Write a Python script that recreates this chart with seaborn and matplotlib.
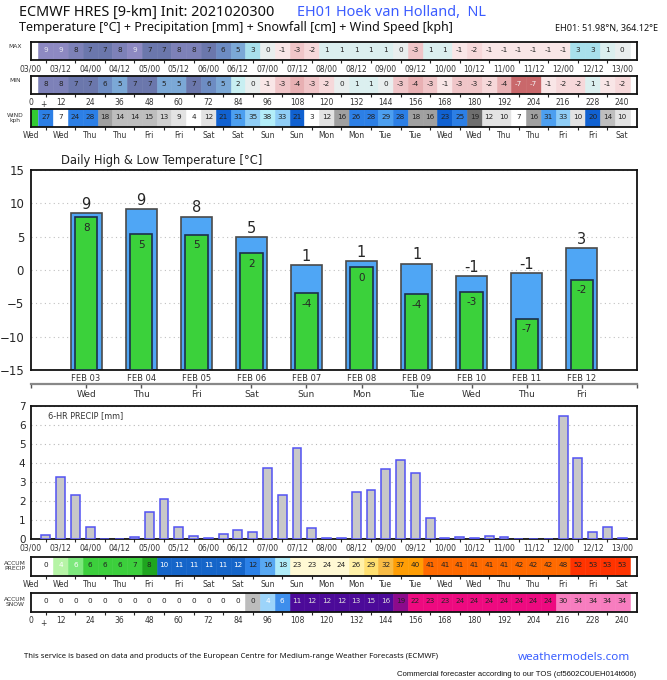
import numpy as np
import matplotlib
matplotlib.use('Agg')
import matplotlib.pyplot as plt
import seaborn as sns

sns.set_style('white')
plt.rcParams['font.family'] = ['DejaVu Sans']

W, H = 667, 680

# centre hour of each 6-hourly cell / bar
step_hours = list(range(6, 241, 6))

# --- 6-hourly strips ---
t_max = [9, 9, 8, 7, 7, 8, 9, 7, 7, 8, 8, 7, 6, 5, 3, 0, -1, -3, -2, 1,
         1, 1, 1, 1, 0, -3, 1, 1, -1, -2, -1, -1, -1, -1, -1, -1, 3, 3, 1, 0]
t_min = [8, 8, 7, 7, 6, 5, 7, 7, 5, 5, 7, 6, 5, 2, 0, -1, -3, -4, -3, -2,
         0, 1, 1, 0, -3, -4, -3, -1, -3, -3, -2, -4, -7, -7, -1, -2, -2, 1, -1, -2]
wind = [27, 7, 24, 28, 18, 14, 14, 15, 13, 9, 4, 12, 21, 31, 35, 38, 33, 21, 3, 12,
        16, 26, 28, 29, 28, 18, 16, 23, 25, 19, 12, 10, 7, 16, 31, 33, 10, 20, 14, 10]
precip_6h = [0.22, 3.26, 2.33, 0.63, 0.0, 0.0, 0.08, 1.42, 2.08, 0.63,
             0.16, 0.04, 0.26, 0.46, 0.37, 3.73, 2.29, 4.80, 0.60, 0.05,
             0.05, 2.49, 2.57, 3.71, 4.15, 3.45, 1.12, 0.03, 0.10, 0.03,
             0.14, 0.10, 0.02, 0.0, 0.02, 6.46, 4.24, 0.35, 0.61, 0.03]
accum_precip = [0.2, 3.6, 5.8, 6.4, 6.4, 6.4, 6.6, 7.9, 10.0, 10.7,
                10.8, 10.9, 11.1, 11.6, 11.9, 15.7, 18.0, 22.8, 23.4, 23.6,
                23.7, 26.1, 28.7, 32.4, 36.6, 40.0, 41.1, 41.1, 41.2, 41.3,
                41.4, 41.4, 41.6, 41.6, 41.7, 48.2, 52.4, 52.8, 53.0, 53.1]
accum_snow = [0, 0, 0, 0, 0, 0, 0, 0, 0, 0, 0, 0, 0, 0, 0.3, 4, 6, 11, 12, 12,
              12, 13, 15, 16, 19, 22, 23, 23, 24, 24, 24, 24, 24, 24, 24, 30, 34, 34, 34, 34]

time_labels = ['03/00', '03/12', '04/00', '04/12', '05/00', '05/12', '06/00', '06/12',
               '07/00', '07/12', '08/00', '08/12', '09/00', '09/12', '10/00', '10/12',
               '11/00', '11/12', '12/00', '12/12', '13/00']
hour_labels = ['0', '12', '24', '36', '48', '60', '72', '84', '96', '108', '120',
               '132', '144', '156', '168', '180', '192', '204', '216', '228', '240']
day_labels = ['Wed', 'Wed', 'Thu', 'Thu', 'Fri', 'Fri', 'Sat', 'Sat', 'Sun', 'Sun', 'Mon',
              'Mon', 'Tue', 'Tue', 'Wed', 'Wed', 'Thu', 'Thu', 'Fri', 'Fri', 'Sat']

# --- daily high / low ---
days = ['FEB 03', 'FEB 04', 'FEB 05', 'FEB 06', 'FEB 07',
        'FEB 08', 'FEB 09', 'FEB 10', 'FEB 11', 'FEB 12']
weekdays = ['Wed', 'Thu', 'Fri', 'Sat', 'Sun', 'Mon', 'Tue', 'Wed', 'Thu', 'Fri']
high = [8.5, 9.1, 8.0, 4.9, 0.75, 1.3, 0.95, -0.9, -0.45, 3.25]
high_lbl = ['9', '9', '8', '5', '1', '1', '1', '-1', '-1', '3']
low = [7.9, 5.35, 5.3, 2.5, -3.5, 0.4, -3.65, -3.3, -7.3, -1.45]
low_lbl = ['8', '5', '5', '2', '-4', '0', '-4', '-3', '-7', '-2']

# colour scales (value -> face colour, text colour)
DK = '#222222'
temp_cols = {9: ('#8d89c2', '#e6e6f2'), 8: ('#7d81b8', DK), 7: ('#6b77ac', DK),
             6: ('#6d8cc3', DK), 5: ('#7ba8d6', DK), 4: ('#93c6e2', DK),
             3: ('#a8e0ec', DK), 2: ('#c8eff2', DK), 1: ('#dbefef', DK),
             0: ('#e9eeee', DK), -1: ('#f9e6e7', DK), -2: ('#f6d8da', DK),
             -3: ('#f0c5c8', DK), -4: ('#e8b0b3', DK), -7: ('#c9686b', '#f4f4f4')}
wind_levels = [(8.5, '#ffffff', DK), (12.5, '#e3e3e3', DK), (13.5, '#d0d0d0', DK),
               (15.5, '#bebebe', DK), (18.5, '#a0a0a0', DK), (19.5, '#6e6e6e', DK),
               (23.5, '#1061d1', DK), (28.5, '#2c7fe6', DK), (32.5, '#4c9ff0', DK),
               (35.5, '#8fcdf6', DK), (99, '#b3eef9', DK)]
precip_levels = [(2.5, '#ffffff', DK), (5.0, '#b6f4a6', 'w'), (6.35, '#7de87d', 'w'),
                 (7.62, '#3ccf3c', DK), (8.9, '#1fa51f', DK), (11.8, '#1565c9', 'w'),
                 (14, '#2b81e8', DK), (17, '#58a8f2', DK), (20, '#b0ecf8', DK),
                 (25.4, '#fff9d4', DK), (27, '#fff1a8', DK), (30, '#ffe070', DK),
                 (35, '#f8bb45', DK), (40.5, '#ff9e05', DK), (50, '#ff6a00', DK),
                 (999, '#ff3300', DK)]
snow_levels = [(0.1, '#ffffff', DK), (1, '#bcbcbc', DK), (5, '#9cd4fa', 'w'),
               (8, '#3e8eec', 'w'), (17, '#4c0a99', '#dddddd'), (20, '#8c0a8c', DK),
               (25.4, '#ee0a80', DK), (999, '#f77dbf', DK)]


def level_colour(v, levels):
    for up, fc, tc in levels:
        if v < up:
            return fc, tc
    return levels[-1][1], levels[-1][2]


fig = plt.figure(figsize=(W / 100, H / 100), dpi=100)


def axes_px(top, bottom, left=31, right=637):
    return fig.add_axes([left / W, 1 - bottom / H, (right - left) / W, (bottom - top) / H])


def draw_strip(ax, values, colours, labels):
    faces = [c[0] for c in colours]
    ax.bar(step_hours, 1, width=6, color=faces, edgecolor=faces, linewidth=0.4)
    for h, v, (fc, tc) in zip(step_hours, values, colours):
        ax.text(h, 0.58, f'{v:.0f}', ha='center', va='center', fontsize=5.2, color=tc)
    ax.set_xlim(0, 246)
    ax.set_ylim(0, 1)
    ax.set_yticks([])
    ax.set_xticks(range(0, 241, 12), labels)
    ax.set_xticks(range(6, 241, 12), minor=True)
    ax.tick_params(axis='x', which='major', length=0, pad=3, labelsize=5.5, labelcolor='#333333')
    ax.tick_params(axis='x', which='minor', bottom=True, length=2.5, width=0.8, color='#222222')
    for s in ax.spines.values():
        s.set_linewidth(1.3)
        s.set_color('#111111')


# strips at the top
ax_max = axes_px(42, 60)
draw_strip(ax_max, t_max, [temp_cols[v] for v in t_max], time_labels)
ax_min = axes_px(76, 94)
draw_strip(ax_min, t_min, [temp_cols[v] for v in t_min], hour_labels)
ax_min.text(5, -0.35, '+', ha='center', va='top', fontsize=5.5, color='#333333')
ax_wind = axes_px(109, 127)
draw_strip(ax_wind, wind, [level_colour(v, wind_levels) for v in wind], day_labels)
ax_wind.axvspan(0, 3, color='#33cc33', lw=0)

# daily high & low
ylo = -15
ax = axes_px(170, 370)
x = np.arange(len(days))
ax.bar(x, np.array(high) - ylo, bottom=ylo, width=0.56, color='#4fa6f5',
       edgecolor='#4a4a4a', linewidth=1.2, zorder=2)
ax.bar(x, np.array(low) - ylo, bottom=ylo, width=0.41, color='#3bd13b',
       edgecolor='#1c2f4a', linewidth=1.2, zorder=3)
for xi, h, hl, lo, ll in zip(x, high, high_lbl, low, low_lbl):
    ax.annotate(hl, (xi, h), xytext=(0, 1), textcoords='offset points',
                ha='center', va='bottom', fontsize=10.5, zorder=4)
    ax.annotate(ll, (xi, lo), xytext=(0, -7.5), textcoords='offset points',
                ha='center', va='center', fontsize=7.5, zorder=4)
ax.set_xlim(-1, 10)
ax.set_ylim(-15, 15)
ax.set_yticks(range(-15, 16, 5))
ax.set_xticks(x, days)
ax.yaxis.grid(True, ls=(0, (1, 3)), color='#c0c0c0', lw=0.8)
ax.set_axisbelow(True)
ax.tick_params(axis='y', labelsize=8.5, length=0, pad=5)
ax.tick_params(axis='x', labelsize=6, labelcolor='#333333', length=0, pad=3)
for s in ax.spines.values():
    s.set_linewidth(1.3)
    s.set_color('#111111')
sec = ax.secondary_xaxis(-0.07)
sec.set_xticks(x, weekdays)
sec.set_xticks([-1, 10], minor=True)
sec.spines['bottom'].set_color('#888888')
sec.spines['bottom'].set_linewidth(1.6)
sec.tick_params(which='both', labelsize=6.5, labelcolor='#333333', length=3, width=1,
                color='#555555', pad=1.5)
fig.text(61 / W, 1 - 160.5 / H, 'Daily High & Low Temperature [°C]', fontsize=8.3,
         va='center', color='#222222')

# 6-hr precipitation
axp = axes_px(406, 539)
sns.barplot(x=step_hours, y=precip_6h, native_scale=True, width=0.6, color='#c8c8c8',
            saturation=1, edgecolor='#5252f2', linewidth=1.1, errorbar=None, ax=axp, zorder=3)
axp.set_xlim(0, 246)
axp.set_ylim(0, 7)
axp.set_xlabel('')
axp.set_ylabel('')
axp.set_yticks(range(0, 8))
axp.set_xticks(range(0, 241, 12), time_labels)
axp.set_xticks(range(6, 241, 12), minor=True)
axp.yaxis.grid(True, ls=(0, (1, 3)), color='#b8b8b8', lw=0.8)
axp.set_axisbelow(True)
axp.tick_params(axis='y', labelsize=7.5, length=2, pad=2)
axp.tick_params(axis='x', which='major', labelsize=5.5, labelcolor='#333333', length=0, pad=3.5)
axp.tick_params(axis='x', which='minor', bottom=True, length=2.5, width=0.8)
for s in axp.spines.values():
    s.set_linewidth(1.3)
    s.set_color('#111111')
axp.text(0.028, 0.965, '6-HR PRECIP [mm]', transform=axp.transAxes, fontsize=5.9,
         va='top', color='#333333')

# accumulated precip / snow strips
ax_ap = axes_px(557, 576)
draw_strip(ax_ap, accum_precip, [level_colour(v, precip_levels) for v in accum_precip], day_labels)
ax_as = axes_px(593, 612)
draw_strip(ax_as, accum_snow, [level_colour(v, snow_levels) for v in accum_snow], hour_labels)
ax_as.text(5, -0.35, '+', ha='center', va='top', fontsize=5.5, color='#333333')

# side labels
side = [(47, 'MAX'), (81, 'MIN'), (118, 'WIND\nkph'), (566, 'ACCUM\nPRECIP'), (602, 'ACCUM\nSNOW')]
for yy, txt in side:
    fig.text(15 / W, 1 - yy / H, txt, ha='center', va='center', fontsize=4.3,
             color='#333333', linespacing=1.1)

# header
fig.text(19 / W, 1 - 12.5 / H, 'ECMWF HRES [9-km] Init: 2021020300', fontsize=10.4,
         va='center', family='Noto Sans', color='#111111')
fig.text(297 / W, 1 - 12.5 / H, 'EH01 Hoek van Holland,  NL', fontsize=10.4,
         va='center', family='Noto Sans', color='#3b5cff')
fig.text(19 / W, 1 - 27 / H,
         'Temperature [°C] + Precipitation [mm] + Snowfall [cm] + Wind Speed [kph]',
         fontsize=9.0, va='center', family='Noto Sans', color='#111111')
fig.text(658 / W, 1 - 28 / H, 'EH01: 51.98°N, 364.12°E', fontsize=6.5, ha='right',
         va='center', family='Noto Sans', color='#111111')

# footer
fig.text(24 / W, 1 - 657 / H,
         'This service is based on data and products of the European Centre for '
         'Medium-range Weather Forecasts (ECMWF)',
         fontsize=5.6, va='center', family='Noto Sans', color='#111111')
fig.text(630 / W, 1 - 657 / H, 'weathermodels.com', fontsize=8.4, ha='right',
         va='center', family='Noto Sans', color='#3a5fff')
fig.text(636 / W, 1 - 674 / H,
         'Commercial forecaster according to our TOS (cf5602C0UEH014t606)',
         fontsize=5.6, ha='right', va='center', family='Liberation Sans', color='#111111')

fig.savefig('out.png', dpi=100, facecolor='white')
